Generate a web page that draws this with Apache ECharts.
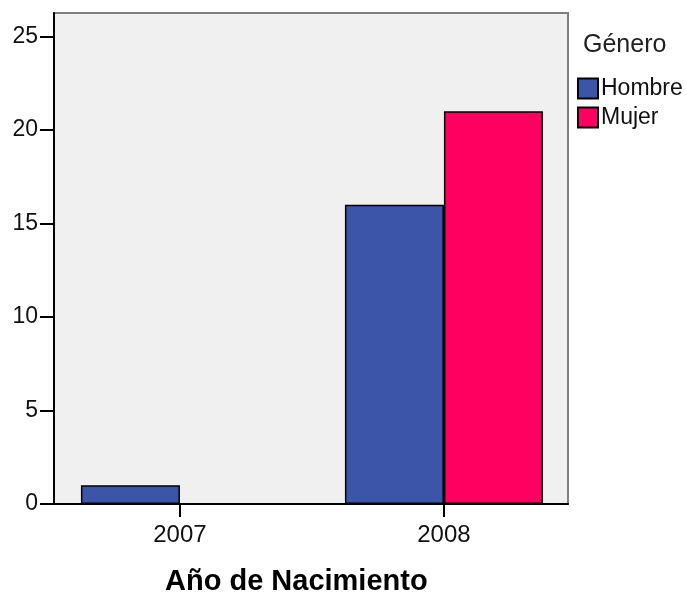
<!DOCTYPE html>
<html>
<head>
<meta charset="utf-8">
<style>
  html, body { margin: 0; padding: 0; background: #ffffff; }
  #chart { width: 686px; height: 603px; }
</style>
<script src="https://cdn.jsdelivr.net/npm/echarts@6/dist/echarts.min.js"></script>
</head>
<body>
<div id="chart"></div>
<script>
// Birth years on the horizontal axis
const years = [2007, 2008];
// Counts per gender for each year
const hombre = [1, 16];
const mujer = [0, 21];
// Tick values for the count axis
const yTicks = [0, 5, 10, 15, 20, 25];

const FONT = '"Liberation Sans", Arial, sans-serif';

const chart = echarts.init(document.getElementById('chart'), null, { renderer: 'canvas' });

function pairs(vals) {
  return years.map((y, i) => [y, vals[i]]);
}

chart.setOption({
  animation: false,
  backgroundColor: '#ffffff',
  textStyle: { fontFamily: FONT },
  grid: {
    left: 54, top: 13, right: 118, bottom: 99,
    show: true,
    backgroundColor: '#f0f0f0',
    borderColor: '#7f7f7f',
    borderWidth: 2,
    containLabel: false
  },
  title: {
    text: 'Género',
    left: 578, top: 28,
    textStyle: { fontFamily: FONT, fontSize: 25, fontWeight: 'normal', color: '#222' }
  },
  legend: {
    orient: 'vertical',
    left: 572, top: 72,
    itemWidth: 20, itemHeight: 20, itemGap: 6,
    icon: 'rect',
    textStyle: { fontFamily: FONT, fontSize: 23, color: '#111', padding: [0, 0, 0, -2] },
    data: ['Hombre', 'Mujer']
  },
  xAxis: {
    type: 'value',
    min: 2006.523, max: 2008.47,
    splitLine: { show: false },
    axisLine: { show: true, lineStyle: { color: '#000', width: 2 } },
    axisTick: { show: true, customValues: years, length: 13, lineStyle: { color: '#000', width: 2 } },
    axisLabel: {
      customValues: years,
      formatter: v => String(v),
      fontFamily: FONT, fontSize: 24, color: '#111', margin: 19
    }
  },
  yAxis: {
    type: 'value',
    min: 0, max: 26.25,
    splitLine: { show: false },
    axisLine: { show: true, lineStyle: { color: '#000', width: 2 } },
    axisTick: { show: true, customValues: yTicks, length: 14, lineStyle: { color: '#000', width: 2 } },
    axisLabel: {
      customValues: yTicks,
      fontFamily: FONT, fontSize: 23, color: '#111', margin: 16
    }
  },
  graphic: [{
    type: 'text',
    left: 165, top: 567,
    style: {
      text: 'Año de Nacimiento',
      font: 'bold 29px ' + FONT,
      fill: '#000'
    }
  }],
  series: [
    {
      name: 'Hombre', type: 'bar',
      barWidth: 99, barGap: '0%',
      itemStyle: { color: '#3d55a8', borderColor: '#000', borderWidth: 1.5 },
      data: pairs(hombre)
    },
    {
      name: 'Mujer', type: 'bar',
      barWidth: 99, barGap: '0%',
      itemStyle: { color: '#ff0060', borderColor: '#000', borderWidth: 1.5 },
      data: pairs(mujer)
    }
  ]
});
</script>
</body>
</html>
